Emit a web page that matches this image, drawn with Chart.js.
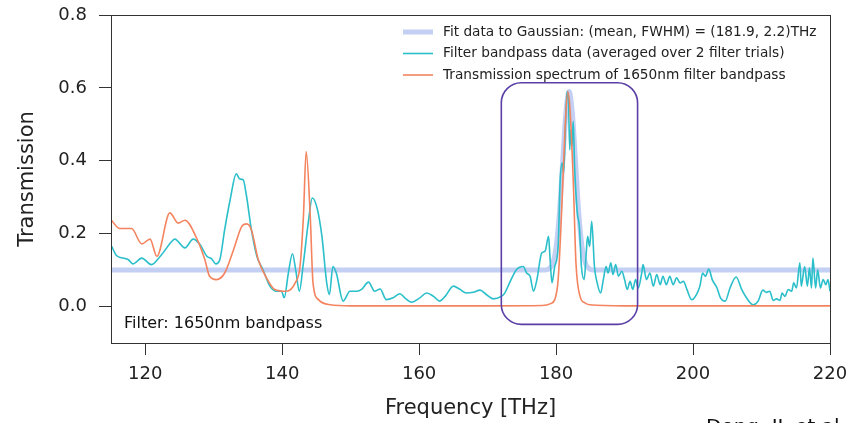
<!DOCTYPE html>
<html>
<head>
<meta charset="utf-8">
<script src="https://cdn.jsdelivr.net/npm/chart.js@4.4.1/dist/chart.umd.min.js"></script>
<style>
  html, body { margin: 0; padding: 0; background: #fff; }
  #wrap { width: 864px; height: 423px; }
</style>
</head>
<body>
<div id="wrap"><canvas id="grafico" width="864" height="423"></canvas></div>
<script>
// frequências e valores
const filtroFreq = [115.1, 115.8, 116.8, 117.5, 118.2, 119.5, 120.9, 122.2, 123.9, 124.3, 125.8, 127.0, 128.0, 129.0, 129.7, 130.3, 130.9, 131.6, 132.4, 133.3, 133.8, 134.3, 134.8, 135.5, 136.3, 137.2, 138.2, 139.2, 139.9, 140.3, 140.9, 141.5, 142.0, 142.5, 143.1, 143.8, 144.4, 145.1, 145.8, 146.5, 146.9, 147.4, 147.9, 148.9, 149.9, 150.9, 151.6, 152.6, 153.5, 154.3, 155.2, 156.2, 157.2, 157.9, 158.9, 160.1, 161.1, 162.1, 163.0, 163.8, 165.0, 165.9, 166.9, 167.9, 168.9, 169.8, 170.8, 172.0, 172.5, 173.2, 174.2, 174.7, 175.2, 175.7, 176.2, 176.7, 177.2, 177.9, 178.4, 178.9, 179.1, 179.4, 179.8, 180.3, 180.6, 180.9, 181.1, 181.4, 181.6, 181.8, 182.0, 182.1, 182.3, 182.5, 182.7, 183.1, 183.4, 183.7, 184.1, 184.4, 184.6, 184.9, 185.2, 185.6, 186.0, 186.5, 186.9, 187.3, 187.6, 188.0, 188.3, 188.7, 189.1, 189.6, 190.0, 190.4, 190.8, 191.2, 191.6, 192.0, 192.5, 192.7, 193.2, 193.7, 194.2, 194.7, 195.2, 195.6, 196.1, 196.6, 197.1, 197.6, 198.1, 198.6, 199.1, 199.8, 200.5, 201.0, 201.4, 201.8, 202.3, 202.8, 203.5, 204.0, 204.7, 205.4, 206.3, 207.1, 207.8, 208.8, 209.5, 210.2, 210.7, 211.2, 211.7, 212.2, 212.7, 213.0, 213.4, 213.9, 214.4, 214.7, 215.1, 215.6, 215.8, 216.3, 216.7, 217.0, 217.3, 217.5, 217.9, 218.2, 218.6, 219.0, 219.4, 219.7, 220.0];
const filtroValores = [0.165, 0.140, 0.133, 0.129, 0.117, 0.133, 0.115, 0.138, 0.179, 0.185, 0.161, 0.185, 0.170, 0.138, 0.131, 0.117, 0.129, 0.211, 0.293, 0.364, 0.350, 0.348, 0.302, 0.211, 0.138, 0.101, 0.056, 0.042, 0.042, 0.024, 0.092, 0.145, 0.097, 0.042, 0.120, 0.229, 0.298, 0.270, 0.193, 0.065, 0.033, 0.110, 0.092, 0.015, 0.042, 0.042, 0.047, 0.067, 0.042, 0.048, 0.019, 0.024, 0.035, 0.024, 0.012, 0.024, 0.037, 0.028, 0.015, 0.028, 0.056, 0.048, 0.037, 0.039, 0.045, 0.033, 0.021, 0.028, 0.037, 0.065, 0.101, 0.108, 0.110, 0.092, 0.083, 0.042, 0.074, 0.147, 0.152, 0.193, 0.138, 0.065, 0.110, 0.165, 0.348, 0.394, 0.366, 0.512, 0.590, 0.567, 0.430, 0.485, 0.439, 0.508, 0.384, 0.257, 0.220, 0.110, 0.074, 0.147, 0.193, 0.165, 0.234, 0.110, 0.065, 0.037, 0.074, 0.110, 0.092, 0.120, 0.088, 0.115, 0.083, 0.097, 0.074, 0.047, 0.069, 0.047, 0.074, 0.051, 0.092, 0.115, 0.074, 0.092, 0.056, 0.088, 0.060, 0.083, 0.060, 0.083, 0.060, 0.079, 0.065, 0.069, 0.047, 0.019, 0.033, 0.056, 0.092, 0.083, 0.103, 0.074, 0.051, 0.024, 0.015, 0.051, 0.081, 0.047, 0.024, 0.005, 0.015, 0.045, 0.039, 0.042, 0.017, 0.021, 0.017, 0.037, 0.028, 0.047, 0.042, 0.065, 0.051, 0.120, 0.056, 0.110, 0.056, 0.106, 0.051, 0.133, 0.051, 0.101, 0.051, 0.074, 0.060, 0.074, 0.042];

const espectroFreq = [115.0, 116.3, 118.0, 119.5, 120.7, 121.7, 123.6, 124.8, 125.8, 127.5, 128.7, 129.4, 130.4, 131.6, 132.9, 134.1, 134.8, 135.5, 136.5, 137.7, 138.9, 140.6, 141.9, 142.6, 143.1, 143.5, 144.1, 144.5, 145.3, 147.0, 150.0, 170.0, 178.0, 179.2, 179.8, 180.3, 180.8, 181.3, 181.7, 182.0, 182.5, 182.9, 183.5, 184.2, 184.9, 190.0, 220.0];
const espectroValores = [0.238, 0.214, 0.214, 0.172, 0.185, 0.138, 0.257, 0.229, 0.237, 0.188, 0.129, 0.083, 0.074, 0.092, 0.156, 0.220, 0.227, 0.211, 0.129, 0.079, 0.047, 0.042, 0.065, 0.110, 0.247, 0.425, 0.247, 0.065, 0.019, 0.005, 0.002, 0.002, 0.003, 0.008, 0.019, 0.074, 0.257, 0.485, 0.590, 0.549, 0.348, 0.120, 0.028, 0.010, 0.005, 0.002, 0.002];

const ajusteFreq = [115.0, 178.4, 179.0, 179.5, 180.0, 180.5, 181.0, 181.4, 181.9, 182.4, 182.8, 183.3, 183.8, 184.3, 184.8, 185.4, 220.0];
const ajusteValores = [0.100, 0.100, 0.104, 0.118, 0.162, 0.259, 0.408, 0.524, 0.590, 0.524, 0.408, 0.259, 0.162, 0.118, 0.104, 0.100, 0.100];

const ticksX = [120, 140, 160, 180, 200, 220];
const ticksY = [0.0, 0.2, 0.4, 0.6, 0.8];

const legendaTextos = [
    'Fit data to Gaussian: (mean, FWHM) = (181.9, 2.2)THz',
    'Filter bandpass data (averaged over 2 filter trials)',
    'Transmission spectrum of 1650nm filter bandpass'
];

const corAjuste = 'rgba(180, 195, 240, 0.8)';
const corFiltro = '#2abfca';
const corEspectro = '#f4845f';
const corCaixa = '#5a3fa6';

function pares(xs, ys) {
    return xs.map((x, i) => ({ x: x, y: ys[i] }));
}

// moldura, legenda, caixa arredondada e textos
const extras = {
    id: 'extras',
    afterDatasetsDraw(chart) {
        const ctx = chart.ctx;
        const a = chart.chartArea;
        const sx = chart.scales.x, sy = chart.scales.y;
        ctx.save();

        // caixa roxa em volta do pico
        const x0 = sx.getPixelForValue(172.0), x1 = sx.getPixelForValue(191.9);
        const y0 = sy.getPixelForValue(0.614), y1 = sy.getPixelForValue(-0.049);
        ctx.strokeStyle = corCaixa;
        ctx.lineWidth = 1.6;
        ctx.beginPath();
        ctx.roundRect(x0, y0, x1 - x0, y1 - y0, 20);
        ctx.stroke();

        // moldura completa
        ctx.strokeStyle = '#333';
        ctx.lineWidth = 1;
        ctx.strokeRect(Math.round(a.left) + 0.5, Math.round(a.top) + 0.5, Math.round(a.right - a.left), Math.round(a.bottom - a.top));

        // legenda
        const cores = [corAjuste, corFiltro, corEspectro];
        const larguras = [5, 1.6, 1.6];
        ctx.font = '13.7px "DejaVu Sans"';
        ctx.textBaseline = 'middle';
        ctx.textAlign = 'left';
        for (let i = 0; i < 3; i++) {
            const y = 32 + i * 21.5;
            ctx.strokeStyle = cores[i];
            ctx.lineWidth = larguras[i];
            ctx.beginPath();
            ctx.moveTo(403, y);
            ctx.lineTo(433, y);
            ctx.stroke();
            ctx.fillStyle = '#222';
            ctx.fillText(legendaTextos[i], 443, y);
        }

        // texto dentro do gráfico
        ctx.font = '16px "DejaVu Sans"';
        ctx.fillStyle = '#111';
        ctx.fillText('Filter: 1650nm bandpass', 124, 324);

        // crédito cortado no canto
        ctx.font = '20px "DejaVu Sans"';
        ctx.textBaseline = 'alphabetic';
        ctx.fillText('Dong, JL et al', 706, 433);
        ctx.restore();
    }
};

const ctx = document.getElementById('grafico').getContext('2d');

new Chart(ctx, {
    type: 'line',
    data: {
        datasets: [
            {
                label: legendaTextos[0],
                data: pares(ajusteFreq, ajusteValores),
                borderColor: corAjuste,
                borderWidth: 5,
                pointRadius: 0,
                cubicInterpolationMode: 'monotone',
                order: 3
            },
            {
                label: legendaTextos[1],
                data: pares(filtroFreq, filtroValores),
                borderColor: corFiltro,
                borderWidth: 1.6,
                pointRadius: 0,
                cubicInterpolationMode: 'monotone',
                order: 2
            },
            {
                label: legendaTextos[2],
                data: pares(espectroFreq, espectroValores),
                borderColor: corEspectro,
                borderWidth: 1.6,
                pointRadius: 0,
                cubicInterpolationMode: 'monotone',
                order: 1
            }
        ]
    },
    options: {
        responsive: false,
        animation: false,
        devicePixelRatio: 1,
        layout: { padding: { top: 15, right: 34, bottom: 0, left: 0 } },
        plugins: { legend: { display: false }, tooltip: { enabled: false } },
        scales: {
            x: {
                type: 'linear',
                min: 115,
                max: 220,
                afterBuildTicks: (s) => { s.ticks = ticksX.map(v => ({ value: v })); },
                afterFit: (s) => { s.height = 80; s.paddingLeft = 0; s.paddingRight = 0; },
                grid: { drawOnChartArea: false, tickLength: 12, color: '#333' },
                border: { color: '#333' },
                ticks: { color: '#222', font: { family: 'DejaVu Sans', size: 18 }, padding: 9, maxRotation: 0 },
                title: { display: true, text: 'Frequency [THz]', color: '#222', font: { family: 'DejaVu Sans', size: 21 }, padding: { top: 0, bottom: 2 } }
            },
            y: {
                min: -0.1,
                max: 0.8,
                afterBuildTicks: (s) => { s.ticks = ticksY.map(v => ({ value: v })); },
                afterFit: (s) => { s.width = 111; s.paddingTop = 0; s.paddingBottom = 0; },
                grid: { drawOnChartArea: false, tickLength: 12, color: '#333' },
                border: { color: '#333' },
                ticks: { color: '#222', font: { family: 'DejaVu Sans', size: 18 }, padding: 12, callback: (v) => v.toFixed(1) },
                title: { display: true, text: 'Transmission', color: '#222', font: { family: 'DejaVu Sans', size: 21 }, padding: { top: 15, bottom: 0 } }
            }
        }
    },
    plugins: [extras]
});
</script>
</body>
</html>
